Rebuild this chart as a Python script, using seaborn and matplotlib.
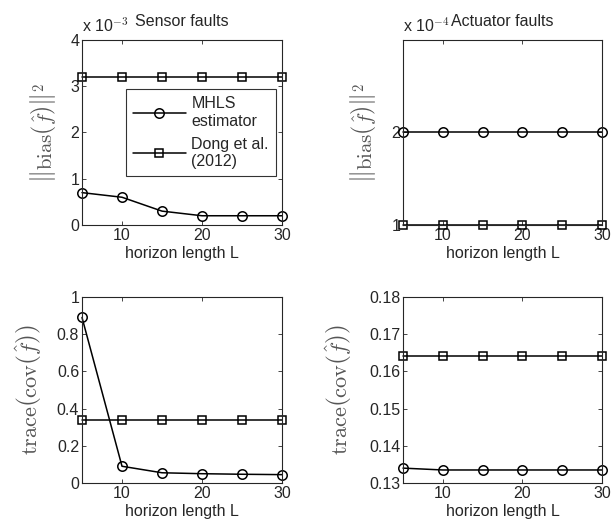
import numpy as np
import pandas as pd
import matplotlib
matplotlib.use("Agg")
import matplotlib.pyplot as plt
import seaborn as sns

L = [5, 10, 15, 20, 25, 30]
methods = ["MHLS\nestimator", "Dong et al.\n(2012)"]

sensor_bias_mhls = [0.7, 0.6, 0.3, 0.2, 0.2, 0.2]      # x 1e-3
sensor_bias_dong = [3.2, 3.2, 3.2, 3.2, 3.2, 3.2]
act_bias_mhls = [2.0, 2.0, 2.0, 2.0, 2.0, 2.0]         # x 1e-4
act_bias_dong = [1.0, 1.0, 1.0, 1.0, 1.0, 1.0]
sensor_cov_mhls = [0.89, 0.09, 0.055, 0.05, 0.047, 0.045]
sensor_cov_dong = [0.34, 0.34, 0.34, 0.34, 0.34, 0.34]
act_cov_mhls = [0.134, 0.1335, 0.1335, 0.1335, 0.1335, 0.1335]
act_cov_dong = [0.1642, 0.1642, 0.1642, 0.1642, 0.1642, 0.1642]

sns.set_style("ticks")
plt.rcParams['font.family'] = ['Liberation Sans', 'DejaVu Sans']
plt.rcParams['mathtext.fontset'] = 'cm'
plt.rcParams['xtick.direction'] = 'in'
plt.rcParams['ytick.direction'] = 'in'
plt.rcParams['xtick.top'] = True
plt.rcParams['ytick.right'] = True

FS = 11.5

fig = plt.figure(figsize=(6.13, 5.26), dpi=100)
W, H = 613, 526
def pos(l, t, r, b):
    return [l / W, 1 - b / H, (r - l) / W, (b - t) / H]

axes = [
    fig.add_axes(pos(82, 40, 282, 225)),
    fig.add_axes(pos(403, 40, 602, 225)),
    fig.add_axes(pos(82, 297, 282, 483)),
    fig.add_axes(pos(403, 297, 602, 483)),
]

series = [
    (sensor_bias_mhls, sensor_bias_dong),
    (act_bias_mhls, act_bias_dong),
    (sensor_cov_mhls, sensor_cov_dong),
    (act_cov_mhls, act_cov_dong),
]

bias_lab = r"$\left\Vert\mathrm{bias}\left(\hat{f}\right)\right\Vert^2$"
cov_lab = r"$\mathrm{trace}\left(\mathrm{cov}\left(\hat{f}\right)\right)$"
ylims = [(0, 4), (1, 2.98), (0, 1), (0.13, 0.18)]
yticks = [[0, 1, 2, 3, 4], [1, 2], [0, 0.2, 0.4, 0.6, 0.8, 1],
          [0.13, 0.14, 0.15, 0.16, 0.17, 0.18]]
yticklabels = [["0", "1", "2", "3", "4"], ["1", "2"],
               ["0", "0.2", "0.4", "0.6", "0.8", "1"],
               ["0.13", "0.14", "0.15", "0.16", "0.17", "0.18"]]
ylabels = [bias_lab, bias_lab, cov_lab, cov_lab]
ylab_x = [-0.195, -0.2, -0.265, -0.32]
ylab_fs = [15, 15, 16, 16]

for i, (ax, (m, d)) in enumerate(zip(axes, series)):
    df = pd.DataFrame({
        "L": L * 2,
        "v": list(m) + list(d),
        "method": [methods[0]] * len(L) + [methods[1]] * len(L),
    })
    sns.lineplot(data=df, x="L", y="v", style="method", markers={methods[0]: "o", methods[1]: "s"},
                 dashes=False, color="black", ax=ax, legend=False, linewidth=1.1,
                 markerfacecolor="none", markeredgecolor="black", markeredgewidth=1.1)
    for ln, ms in zip(ax.lines, [6.8, 5.6]):
        ln.set_markersize(ms)
        ln.set_clip_on(False)
    ax.set_xlim(5, 30)
    ax.set_xticks([10, 20, 30])
    ax.set_ylim(*ylims[i])
    ax.set_yticks(yticks[i])
    ax.set_yticklabels(yticklabels[i])
    ax.tick_params(labelsize=FS, length=3, width=0.6, pad=2)
    ax.set_xlabel("horizon length L", fontsize=FS, labelpad=2)
    ax.set_ylabel(ylabels[i], fontsize=ylab_fs[i], color="#555555")
    ax.yaxis.label.set_va("center")
    ax.yaxis.set_label_coords(ylab_x[i], 0.5)
    for s in ax.spines.values():
        s.set_linewidth(0.8)

axes[0].text(0.0, 1.03, r"x 10$^{-3}$", transform=axes[0].transAxes, fontsize=FS, ha="left", va="bottom")
axes[1].text(0.0, 1.03, r"x 10$^{-4}$", transform=axes[1].transAxes, fontsize=FS, ha="left", va="bottom")
axes[0].set_title("Sensor faults", fontsize=FS, pad=10)
axes[1].set_title("Actuator faults", fontsize=FS, pad=10)

leg = axes[0].legend(handles=axes[0].lines[:2], labels=methods, loc="upper right",
                     bbox_to_anchor=(0.97, 0.735), fontsize=FS, frameon=True, fancybox=False,
                     edgecolor="black", handlelength=3.3, handletextpad=0.35, labelspacing=0.5,
                     borderpad=0.45, borderaxespad=0)
leg.get_frame().set_linewidth(0.8)

fig.savefig("out.png", dpi=100)
